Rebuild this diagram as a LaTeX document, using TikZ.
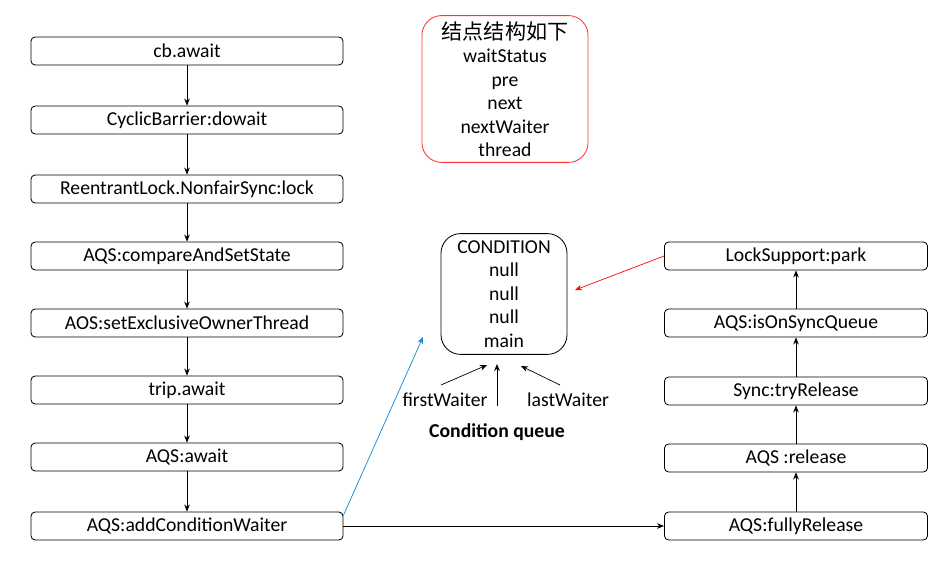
\documentclass[tikz,border=0pt]{standalone}
\usepackage{fontspec}
\setmainfont{Carlito}
\newfontfamily\cjk{Noto Sans CJK SC}
\usetikzlibrary{arrows.meta,calc}
\begin{document}
\begin{tikzpicture}[x=0.025cm,y=-0.025cm,>={Stealth[length=5pt,width=4pt]},font=\fontsize{14}{16.7}\selectfont,step box/.style={draw,line width=0.6pt,rounded corners=3pt,minimum height=0.7cm,inner sep=0pt},left box/.style={step box,minimum width=7.8cm},right box/.style={step box,minimum width=6.575cm},flow/.style={->,line width=0.5pt},info box/.style={draw,line width=0.6pt,align=center,rounded corners=14pt,inner sep=4pt}]
\useasboundingbox (0,0) rectangle (949,564);
% left column
\node[left box] (cb) at (187,51) {cb.await}; \node[left box] (dowait) at (187,120) {CyclicBarrier:dowait};
\node[left box] (lock) at (187,189) {ReentrantLock.NonfairSync:lock}; \node[left box] (cas) at (187,256) {AQS:compareAndSetState};
\node[left box] (owner) at (187,323) {AOS:setExclusiveOwnerThread}; \node[left box] (trip) at (187,390) {trip.await};
\node[left box] (await) at (187,457) {AQS:await}; \node[left box] (addw) at (187,526) {AQS:addConditionWaiter};
\draw[flow] (cb)--(dowait); \draw[flow] (dowait)--(lock); \draw[flow] (lock)--(cas); \draw[flow] (cas)--(owner);
\draw[flow] (owner)--(trip); \draw[flow] (trip)--(await); \draw[flow] (await)--(addw);
% right column
\node[right box] (park) at (796,256) {LockSupport:park}; \node[right box] (onsync) at (796,323) {AQS:isOnSyncQueue};
\node[right box] (tryrel) at (796,391) {Sync:tryRelease}; \node[right box] (release) at (796,458) {AQS :release};
\node[right box] (fully) at (796,526) {AQS:fullyRelease};
\draw[flow] (fully)--(release); \draw[flow] (release)--(tryrel); \draw[flow] (tryrel)--(onsync); \draw[flow] (onsync)--(park);
% node structure and condition queue
\node[info box,red!80,text=black,minimum width=4.15cm,minimum height=3.67cm] (nodeinfo) at (505,89) {{\cjk\fontsize{15}{16.7}\selectfont 结点结构如下}\\waitStatus\\pre\\next\\nextWaiter\\thread};
\node[info box,minimum width=3.15cm,minimum height=3.02cm] (cond) at (504,294) {CONDITION\\null\\null\\null\\main};
\coordinate (fwtail) at (441,385); \coordinate (fwhead) at (487,365); \coordinate (qtail) at (497,406); \coordinate (qhead) at (497,364);
\coordinate (lwtail) at (560,385); \coordinate (lwhead) at (521,366);
\draw[flow] (fwtail)--(fwhead); \draw[flow] (qtail)--(qhead); \draw[flow] (lwtail)--(lwhead);
\node (fw) at (445,400) {firstWaiter}; \node (lw) at (568,400) {lastWaiter}; \node[font=\fontsize{14}{16.7}\selectfont\bfseries] (cq) at (497,432) {Condition queue};
% cross links
\coordinate (bluehead) at (423,337); \coordinate (redhead) at (575,290);
\draw[flow,cyan!70!blue] ([yshift=0.27cm]addw.east)--(bluehead);
\draw[flow,red] (park.west)--(redhead);
\draw[flow] (addw.east)--(fully.west);
\end{tikzpicture}
\end{document}
